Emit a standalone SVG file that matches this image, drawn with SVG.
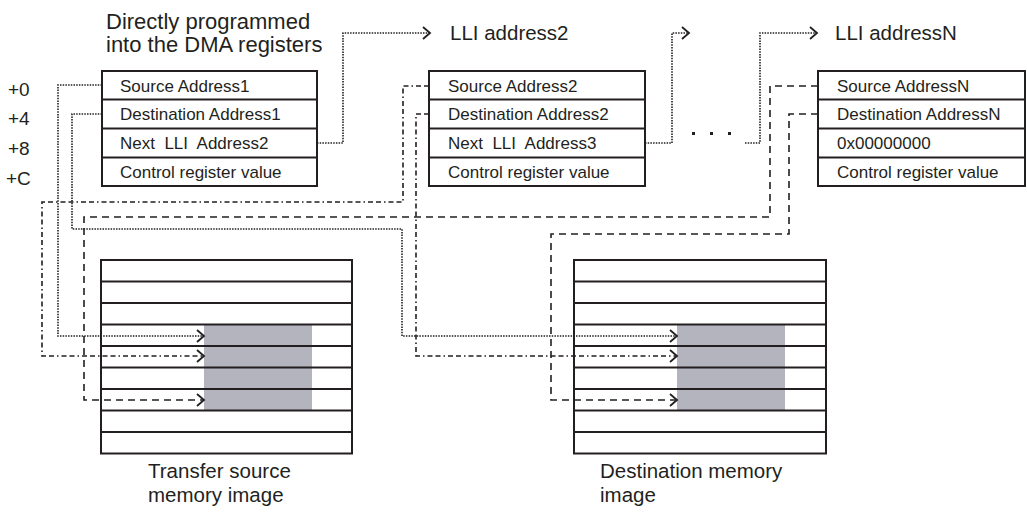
<svg xmlns="http://www.w3.org/2000/svg" width="1027" height="514" viewBox="0 0 1027 514">
<style>
text{font-family:"Liberation Sans",Arial,sans-serif;fill:#231f20;white-space:pre}
.big{font-size:22px}
.reg{font-size:17px}
.off{font-size:19px}
.cap{font-size:20.5px}
.box{fill:#fff;stroke:#231f20;stroke-width:2}
.row{stroke:#231f20;stroke-width:2;fill:none}
.gray{fill:#b4b4be}
.c{fill:none;stroke:#231f20;stroke-width:1.6}
.dot{stroke-dasharray:1.5 1.2}
.dash{stroke-dasharray:7 5}
.dd{stroke-dasharray:5 3 5 3 1.5 3}
</style>
<defs>
<marker id="ah" markerUnits="userSpaceOnUse" markerWidth="12" markerHeight="16" viewBox="-9 -8 12 16" refX="0" refY="0" orient="auto">
<path d="M-7,-6 L0,0 L-7,6" fill="none" stroke="#231f20" stroke-width="1.8" stroke-dasharray="none"/>
</marker>
</defs>
<rect width="1027" height="514" fill="#fff"/>

<g id="title">
<text class="big" x="106" y="29">Directly programmed</text>
<text class="big" x="106" y="52">into the DMA registers</text>
</g>
<g id="offsets">
<text class="off" x="8" y="96">+0</text>
<text class="off" x="8" y="125">+4</text>
<text class="off" x="8" y="155">+8</text>
<text class="off" x="6" y="185">+C</text>
</g>
<g id="lli-label2"><text class="cap" x="450" y="40">LLI address2</text></g>
<g id="lli-labelN"><text class="cap" x="835" y="40">LLI addressN</text></g>

<g id="lli1">
<rect class="box" x="102" y="71" width="215" height="115"/>
<path class="row" d="M102,99.5H317M102,128.5H317M102,157.5H317"/>
<text class="reg" x="120" y="92">Source Address1</text>
<text class="reg" x="120" y="120">Destination Address1</text>
<text class="reg" x="120" y="149">Next  LLI  Address2</text>
<text class="reg" x="120" y="178">Control register value</text>
</g>
<g id="lli2">
<rect class="box" x="429" y="71" width="216" height="115"/>
<path class="row" d="M429,99.5H645M429,128.5H645M429,157.5H645"/>
<text class="reg" x="448" y="92">Source Address2</text>
<text class="reg" x="448" y="120">Destination Address2</text>
<text class="reg" x="448" y="149">Next  LLI  Address3</text>
<text class="reg" x="448" y="178">Control register value</text>
</g>
<g id="lliN">
<rect class="box" x="818" y="71" width="207" height="115"/>
<path class="row" d="M818,99.5H1025M818,128.5H1025M818,157.5H1025"/>
<text class="reg" x="837" y="92">Source AddressN</text>
<text class="reg" x="837" y="120">Destination AddressN</text>
<text class="reg" x="837" y="149">0x00000000</text>
<text class="reg" x="837" y="178">Control register value</text>
</g>

<g id="src-mem">
<rect class="box" x="101" y="260" width="251" height="193.5"/>
<rect class="gray" x="204" y="325" width="108" height="85"/>
<path class="row" d="M101,281.5H352M101,303H352M101,324.5H352M101,346H352M101,367.5H352M101,389H352M101,410.5H352M101,432H352"/>
<text class="cap" x="148" y="478">Transfer source</text>
<text class="cap" x="148" y="502">memory image</text>
</g>
<g id="dst-mem">
<rect class="box" x="574" y="260" width="252" height="193.5"/>
<rect class="gray" x="677" y="325" width="108" height="85"/>
<path class="row" d="M574,281.5H826M574,303H826M574,324.5H826M574,346H826M574,367.5H826M574,389H826M574,410.5H826M574,432H826"/>
<text class="cap" x="600" y="478">Destination memory</text>
<text class="cap" x="600" y="502">image</text>
</g>

<g id="ellipsis" fill="#231f20">
<rect x="692" y="132" width="3" height="3"/>
<rect x="710" y="132" width="3" height="3"/>
<rect x="728" y="132" width="3" height="3"/>
</g>

<g id="connectors">
<path class="c dot" d="M317,143H343V33H430" marker-end="url(#ah)"/>
<path class="c dot" d="M645,143H672V33H689" marker-end="url(#ah)"/>
<path class="c dot" d="M745,143H760V33H817" marker-end="url(#ah)"/>
<path class="c dot" d="M102,85H58V336H204" marker-end="url(#ah)"/>
<path class="c dot" d="M102,114H72V229H402V336H677" marker-end="url(#ah)"/>
<path class="c dd" d="M429,86H403V202H42V356H204" marker-end="url(#ah)"/>
<path class="c dd" d="M429,114H416V356H677" marker-end="url(#ah)"/>
<path class="c dash" d="M818,86H770V217H84V400H204" marker-end="url(#ah)"/>
<path class="c dash" d="M818,114H789V234H551V400H677" marker-end="url(#ah)"/>
</g>
</svg>
